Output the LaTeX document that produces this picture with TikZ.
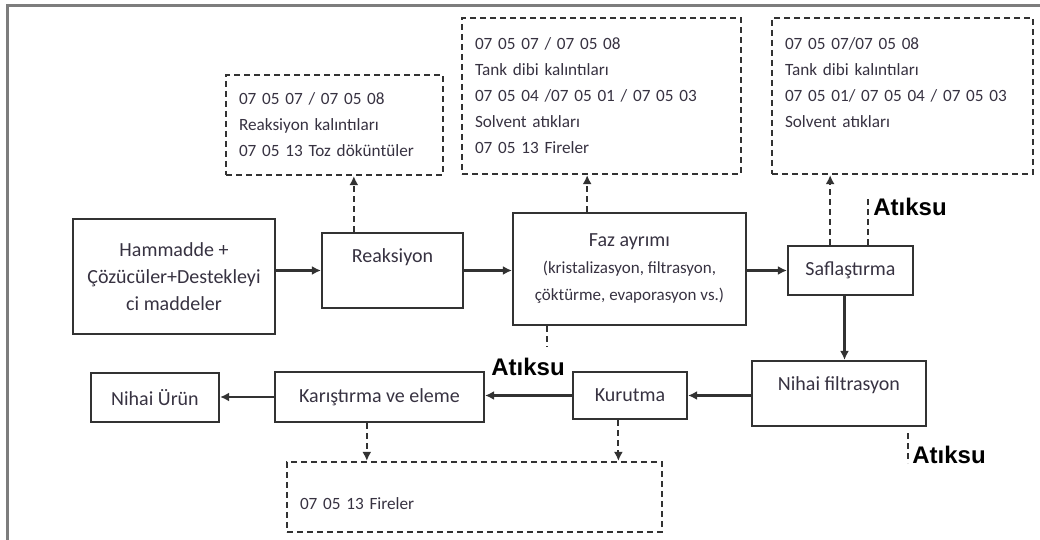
\documentclass[tikz,border=0pt]{standalone}
\usepackage{fontspec}
\setmainfont{Carlito}
\newfontfamily\labelfont{Liberation Sans}
\usetikzlibrary{arrows.meta,positioning,calc}
\definecolor{LINE-DARK}{RGB}{50,50,50}
\definecolor{TEXT-DARK}{RGB}{55,50,65}
\definecolor{FRAME-GRAY}{RGB}{125,125,125}
\newcommand{\fazsmall}{\fontsize{8.5}{11}\selectfont}

\begin{document}
\begin{tikzpicture}[x=0.5pt,y=-0.5pt,
  procbox/.style={draw=LINE-DARK, line width=1.1pt, text=TEXT-DARK,
    font=\fontsize{10}{13.5}\selectfont, align=center, inner sep=0pt},
  wastebox/.style={draw=LINE-DARK, line width=1.1pt, dash pattern=on 3pt off 2pt,
    text=TEXT-DARK, font=\fontsize{8.6}{13}\selectfont, align=left,
    inner xsep=6.5pt, inner ysep=0pt},
  flow/.style={-{Latex[length=4.5pt,width=4.5pt]}, LINE-DARK, line width=1.1pt},
  wasteflow/.style={flow, dash pattern=on 3pt off 2pt},
  wasteline/.style={LINE-DARK, line width=1.1pt, dash pattern=on 3pt off 2pt},
  atiksu/.style={font=\labelfont\bfseries\fontsize{12}{14}\selectfont, text=black, inner sep=0pt}]
  \useasboundingbox (0,0) rectangle (1040,540);

  % Frame (top and left edge)
  \draw[FRAME-GRAY, line width=1.5pt] (7,540) -- (7,6) -- (1040,6);

  % Process boxes
  \node[procbox, minimum width=101pt, minimum height=57.5pt] (ham) at (174,276.5)
    {Hammadde +\\Çözücüler+Destekleyi\\ci maddeler};
  \node[procbox, minimum width=70.5pt, minimum height=37.5pt, text depth=15pt] (reak) at (392.5,270.5)
    {Reaksiyon};
  \node[procbox, minimum width=116.5pt, minimum height=56pt] (faz) at (629.5,269)
    {Faz ayrımı\\{\fazsmall (kristalizasyon, filtrasyon,}\\{\fazsmall çöktürme, evaporasyon vs.)}};
  \node[procbox, minimum width=62.5pt, minimum height=24.5pt] (saf) at (850.5,270.5)
    {Saflaştırma};
  \node[procbox, minimum width=87pt, minimum height=32.5pt, text depth=10pt] (nfil) at (839,393.5)
    {Nihai filtrasyon};
  \node[procbox, minimum width=57pt, minimum height=23.5pt] (kur) at (630,395.5)
    {Kurutma};
  \node[procbox, minimum width=104.5pt, minimum height=25pt] (kar) at (379.5,397)
    {Karıştırma ve eleme};
  \node[procbox, minimum width=64pt, minimum height=24.5pt] (urun) at (155,397.5)
    {Nihai Ürün};

  % Waste boxes (dashed)
  \node[wastebox, minimum width=108.5pt, minimum height=50pt, text width=95.5pt] (wreak) at (334.5,125)
    {07 05 07 / 07 05 08\\Reaksiyon kalıntıları\\07 05 13 Toz döküntüler};
  \node[wastebox, minimum width=139.5pt, minimum height=78pt, text width=126.5pt] (wfaz) at (601.5,96)
    {07 05 07 / 07 05 08\\Tank dibi kalıntıları\\07 05 04 /07 05 01 / 07 05 03\\Solvent atıkları\\07 05 13 Fireler};
  \node[wastebox, minimum width=130.5pt, minimum height=78pt, text width=117.5pt] (wsaf) at (902.5,96)
    {07 05 07/07 05 08\\Tank dibi kalıntıları\\07 05 01/ 07 05 04 / 07 05 03\\Solvent atıkları\\\mbox{}};
  \node[wastebox, minimum width=187.5pt, minimum height=35pt, text width=174.5pt] (wson) at (474.5,497)
    {\mbox{}\\07 05 13 Fireler};

  % Main flow
  \draw[flow] (ham.east |- reak) -- (reak.west);
  \draw[flow] (reak.east) -- (reak.east -| faz.west);
  \draw[flow] (faz.east |- saf) -- (saf.west);
  \draw[flow] ([xshift=-3pt]saf.south) -- ([xshift=-3pt]saf.south |- nfil.north);
  \draw[flow] (nfil.west |- kur) -- (kur.east);
  \draw[flow] (kur.west) -- (kur.west -| kar.east);
  \draw[flow] (kar.west) -- (kar.west -| urun.east);

  % Waste flows
  \coordinate (r1) at ($(reak.north west)!0.23!(reak.north east)$);
  \draw[wasteflow] (r1) -- (r1 |- wreak.south);
  \coordinate (f1) at ($(faz.north west)!0.32!(faz.north east)$);
  \draw[wasteflow] (f1) -- (f1 |- wfaz.south);
  \coordinate (s1) at ($(saf.north west)!0.34!(saf.north east)$);
  \draw[wasteflow] (s1) -- (s1 |- wsaf.south);
  \coordinate (k1) at ($(kar.south west)!0.44!(kar.south east)$);
  \draw[wasteflow] (k1) -- (k1 |- wson.north);
  \coordinate (u1) at ($(kur.south west)!0.40!(kur.south east)$);
  \draw[wasteflow] (u1) -- (u1 |- wson.north);

  % Atiksu (waste water)
  \coordinate (s2) at ($(saf.north west)!0.64!(saf.north east)$);
  \coordinate (s2end) at ($(s2)+(0,-47)$);
  \draw[wasteline] (s2) -- (s2end);
  \node[atiksu, anchor=west] (atiksuSaf) at (873,207) {Atıksu};

  \coordinate (f2) at ($(faz.south west)!0.15!(faz.south east)$);
  \coordinate (f2end) at ($(f2)+(0,21)$);
  \draw[wasteline] (f2) -- (f2end);
  \node[atiksu] (atiksuFaz) at (528,367) {Atıksu};

  \coordinate (n1) at (908,433);
  \coordinate (n1end) at (908,463);
  \draw[wasteline] (n1) -- (n1end);
  \node[atiksu, anchor=west] (atiksuFil) at (912,455) {Atıksu};
\end{tikzpicture}
\end{document}
